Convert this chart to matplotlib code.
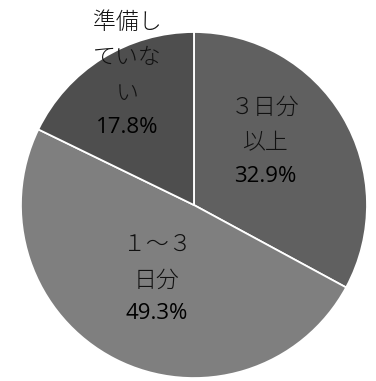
import matplotlib
matplotlib.use("Agg")
import matplotlib.pyplot as plt

categories = ["３日分\n以上", "１～３\n日分", "準備し\nていな\nい"]
values = [32.9, 49.3, 17.8]
colors = ["#606060", "#7f7f7f", "#4e4e4e"]
label_pos = [(0.41, 0.36), (-0.214, -0.434), (-0.387, 0.746)]

plt.rcParams['font.family'] = ['Noto Sans CJK JP', 'DejaVu Sans']

fig = plt.figure(figsize=(3.76, 3.81), dpi=100)
ax = fig.add_axes([0, 0, 1, 1])
wedges, _ = ax.pie(values, colors=colors, startangle=90, counterclock=False,
                   radius=1.0,
                   wedgeprops=dict(edgecolor="white", linewidth=1.3))
ax.set_xlim(-1.121, 1.052)
ax.set_ylim(-1.017, 1.185)
ax.set_aspect('auto')
ax.axis('off')

pitch = 26.0  # points between lines
for cat, v, (x, y) in zip(categories, values, label_pos):
    n = cat.count("\n") + 1
    ax.annotate(cat, (x, y), xytext=(0, pitch / 2), textcoords="offset points",
                ha="center", va="center", fontsize=16.5, color="#111111",
                fontweight="light", linespacing=1.55)
    ax.annotate(f"{v:.1f}%", (x, y), xytext=(0, -n / 2 * pitch + 2),
                textcoords="offset points", ha="center", va="center",
                fontsize=16, color="black", family=["Open Sans", "DejaVu Sans"])

fig.savefig("out.png", dpi=100)
